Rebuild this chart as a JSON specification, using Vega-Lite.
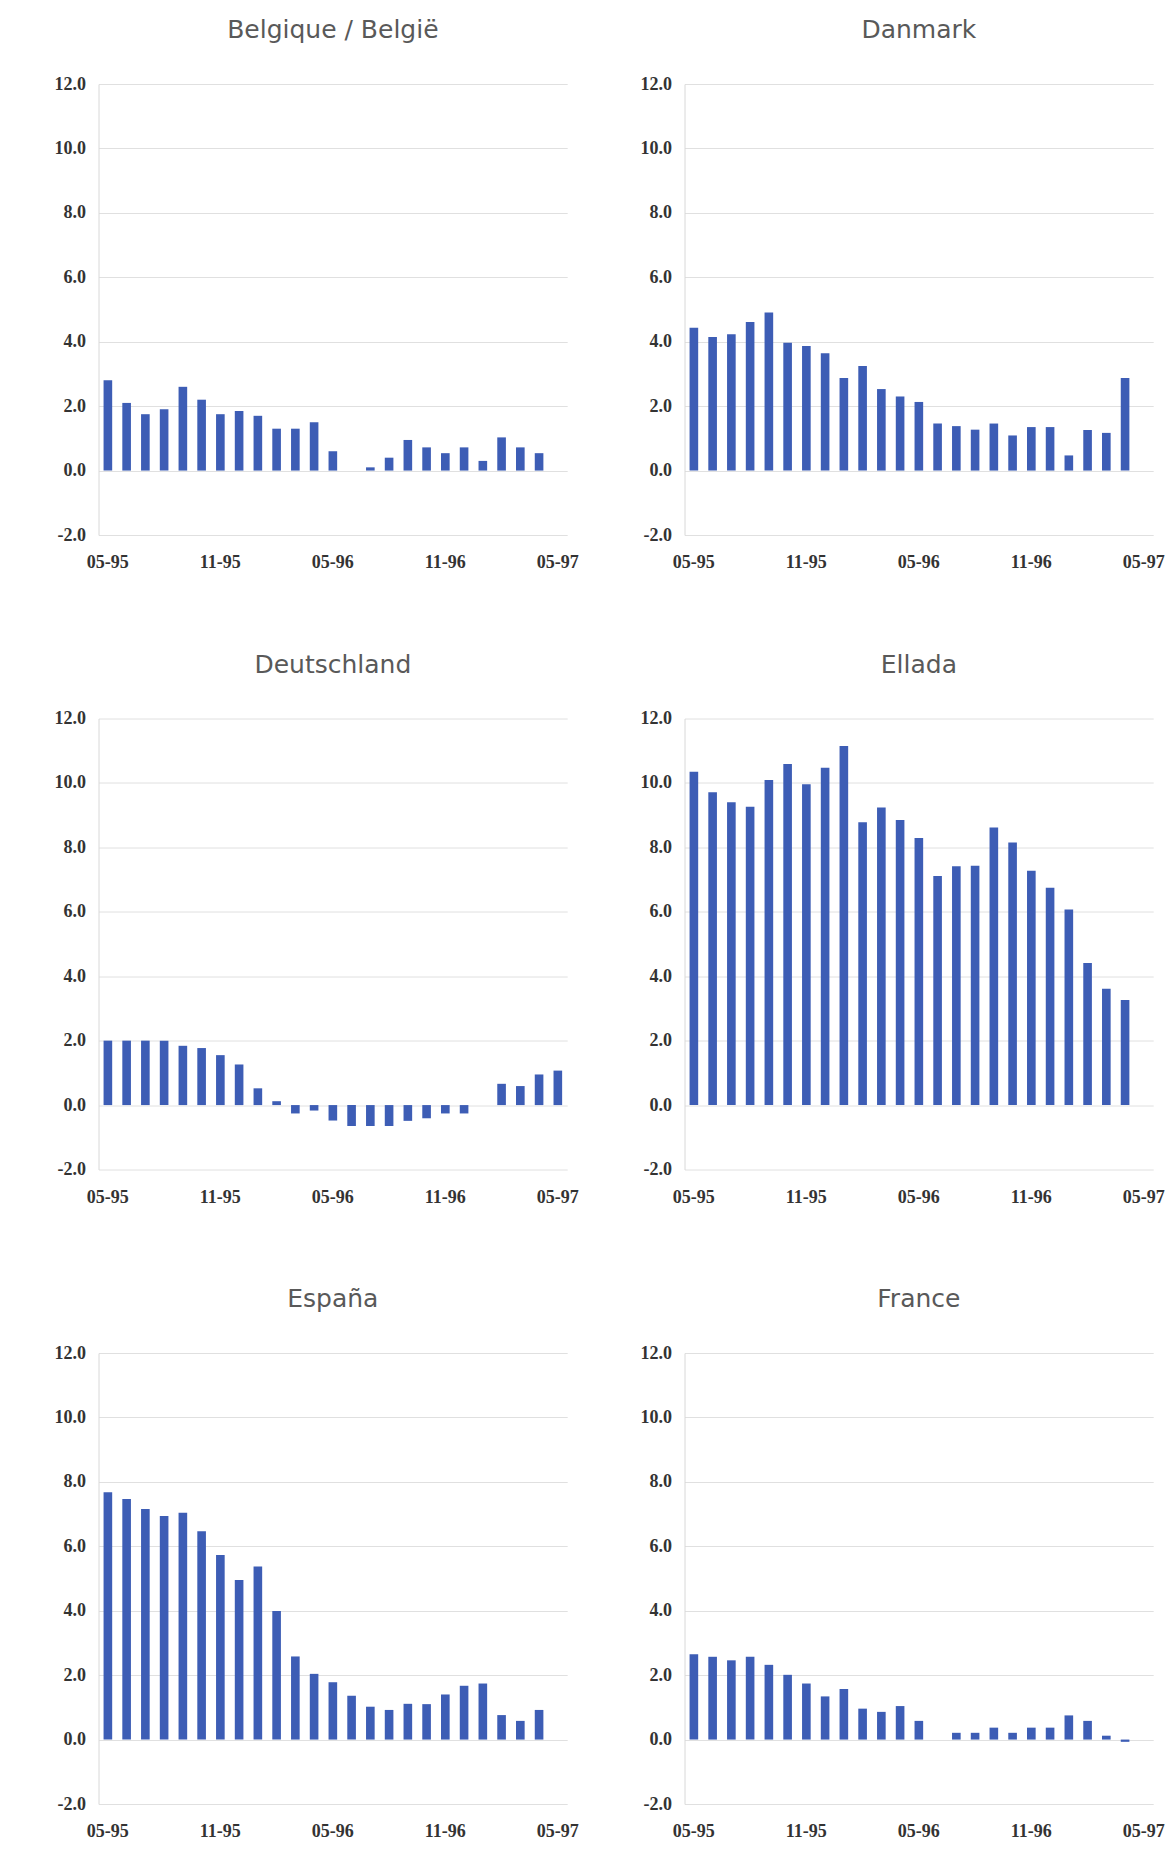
{
  "$schema": "https://vega.github.io/schema/vega-lite/v6.json",
  "background": "white",
  "padding": {"left": 53.5, "top": 18, "right": 4, "bottom": 20},
  "columns": 2,
  "spacing": {"row": 183.5, "column": 117},
  "bounds": "flush",
  "datasets": {
    "d": [
      {"country": "Belgique / België", "month": "05-95", "value": 2.8},
      {"country": "Belgique / België", "month": "06-95", "value": 2.1},
      {"country": "Belgique / België", "month": "07-95", "value": 1.75},
      {"country": "Belgique / België", "month": "08-95", "value": 1.9},
      {"country": "Belgique / België", "month": "09-95", "value": 2.6},
      {"country": "Belgique / België", "month": "10-95", "value": 2.2},
      {"country": "Belgique / België", "month": "11-95", "value": 1.75},
      {"country": "Belgique / België", "month": "12-95", "value": 1.85},
      {"country": "Belgique / België", "month": "01-96", "value": 1.7},
      {"country": "Belgique / België", "month": "02-96", "value": 1.3},
      {"country": "Belgique / België", "month": "03-96", "value": 1.3},
      {"country": "Belgique / België", "month": "04-96", "value": 1.5},
      {"country": "Belgique / België", "month": "05-96", "value": 0.6},
      {"country": "Belgique / België", "month": "06-96", "value": 0.0},
      {"country": "Belgique / België", "month": "07-96", "value": 0.1},
      {"country": "Belgique / België", "month": "08-96", "value": 0.4},
      {"country": "Belgique / België", "month": "09-96", "value": 0.95},
      {"country": "Belgique / België", "month": "10-96", "value": 0.72},
      {"country": "Belgique / België", "month": "11-96", "value": 0.54},
      {"country": "Belgique / België", "month": "12-96", "value": 0.72},
      {"country": "Belgique / België", "month": "01-97", "value": 0.3},
      {"country": "Belgique / België", "month": "02-97", "value": 1.03},
      {"country": "Belgique / België", "month": "03-97", "value": 0.72},
      {"country": "Belgique / België", "month": "04-97", "value": 0.54},

      {"country": "Danmark", "month": "05-95", "value": 4.43},
      {"country": "Danmark", "month": "06-95", "value": 4.15},
      {"country": "Danmark", "month": "07-95", "value": 4.23},
      {"country": "Danmark", "month": "08-95", "value": 4.61},
      {"country": "Danmark", "month": "09-95", "value": 4.91},
      {"country": "Danmark", "month": "10-95", "value": 3.97},
      {"country": "Danmark", "month": "11-95", "value": 3.87},
      {"country": "Danmark", "month": "12-95", "value": 3.64},
      {"country": "Danmark", "month": "01-96", "value": 2.87},
      {"country": "Danmark", "month": "02-96", "value": 3.25},
      {"country": "Danmark", "month": "03-96", "value": 2.53},
      {"country": "Danmark", "month": "04-96", "value": 2.3},
      {"country": "Danmark", "month": "05-96", "value": 2.13},
      {"country": "Danmark", "month": "06-96", "value": 1.46},
      {"country": "Danmark", "month": "07-96", "value": 1.38},
      {"country": "Danmark", "month": "08-96", "value": 1.27},
      {"country": "Danmark", "month": "09-96", "value": 1.46},
      {"country": "Danmark", "month": "10-96", "value": 1.09},
      {"country": "Danmark", "month": "11-96", "value": 1.35},
      {"country": "Danmark", "month": "12-96", "value": 1.35},
      {"country": "Danmark", "month": "01-97", "value": 0.47},
      {"country": "Danmark", "month": "02-97", "value": 1.26},
      {"country": "Danmark", "month": "03-97", "value": 1.17},
      {"country": "Danmark", "month": "04-97", "value": 2.87},

      {"country": "Deutschland", "month": "05-95", "value": 2.0},
      {"country": "Deutschland", "month": "06-95", "value": 2.0},
      {"country": "Deutschland", "month": "07-95", "value": 2.0},
      {"country": "Deutschland", "month": "08-95", "value": 2.0},
      {"country": "Deutschland", "month": "09-95", "value": 1.84},
      {"country": "Deutschland", "month": "10-95", "value": 1.77},
      {"country": "Deutschland", "month": "11-95", "value": 1.55},
      {"country": "Deutschland", "month": "12-95", "value": 1.26},
      {"country": "Deutschland", "month": "01-96", "value": 0.52},
      {"country": "Deutschland", "month": "02-96", "value": 0.12},
      {"country": "Deutschland", "month": "03-96", "value": -0.26},
      {"country": "Deutschland", "month": "04-96", "value": -0.17},
      {"country": "Deutschland", "month": "05-96", "value": -0.48},
      {"country": "Deutschland", "month": "06-96", "value": -0.65},
      {"country": "Deutschland", "month": "07-96", "value": -0.65},
      {"country": "Deutschland", "month": "08-96", "value": -0.65},
      {"country": "Deutschland", "month": "09-96", "value": -0.49},
      {"country": "Deutschland", "month": "10-96", "value": -0.41},
      {"country": "Deutschland", "month": "11-96", "value": -0.26},
      {"country": "Deutschland", "month": "12-96", "value": -0.26},
      {"country": "Deutschland", "month": "02-97", "value": 0.66},
      {"country": "Deutschland", "month": "03-97", "value": 0.59},
      {"country": "Deutschland", "month": "04-97", "value": 0.95},
      {"country": "Deutschland", "month": "05-97", "value": 1.07},

      {"country": "Ellada", "month": "05-95", "value": 10.35},
      {"country": "Ellada", "month": "06-95", "value": 9.71},
      {"country": "Ellada", "month": "07-95", "value": 9.4},
      {"country": "Ellada", "month": "08-95", "value": 9.26},
      {"country": "Ellada", "month": "09-95", "value": 10.09},
      {"country": "Ellada", "month": "10-95", "value": 10.59},
      {"country": "Ellada", "month": "11-95", "value": 9.96},
      {"country": "Ellada", "month": "12-95", "value": 10.47},
      {"country": "Ellada", "month": "01-96", "value": 11.15},
      {"country": "Ellada", "month": "02-96", "value": 8.78},
      {"country": "Ellada", "month": "03-96", "value": 9.24},
      {"country": "Ellada", "month": "04-96", "value": 8.85},
      {"country": "Ellada", "month": "05-96", "value": 8.29},
      {"country": "Ellada", "month": "06-96", "value": 7.11},
      {"country": "Ellada", "month": "07-96", "value": 7.41},
      {"country": "Ellada", "month": "08-96", "value": 7.43},
      {"country": "Ellada", "month": "09-96", "value": 8.62},
      {"country": "Ellada", "month": "10-96", "value": 8.15},
      {"country": "Ellada", "month": "11-96", "value": 7.27},
      {"country": "Ellada", "month": "12-96", "value": 6.75},
      {"country": "Ellada", "month": "01-97", "value": 6.07},
      {"country": "Ellada", "month": "02-97", "value": 4.41},
      {"country": "Ellada", "month": "03-97", "value": 3.61},
      {"country": "Ellada", "month": "04-97", "value": 3.26},

      {"country": "España", "month": "05-95", "value": 7.68},
      {"country": "España", "month": "06-95", "value": 7.47},
      {"country": "España", "month": "07-95", "value": 7.16},
      {"country": "España", "month": "08-95", "value": 6.94},
      {"country": "España", "month": "09-95", "value": 7.04},
      {"country": "España", "month": "10-95", "value": 6.47},
      {"country": "España", "month": "11-95", "value": 5.73},
      {"country": "España", "month": "12-95", "value": 4.95},
      {"country": "España", "month": "01-96", "value": 5.37},
      {"country": "España", "month": "02-96", "value": 3.99},
      {"country": "España", "month": "03-96", "value": 2.58},
      {"country": "España", "month": "04-96", "value": 2.04},
      {"country": "España", "month": "05-96", "value": 1.78},
      {"country": "España", "month": "06-96", "value": 1.36},
      {"country": "España", "month": "07-96", "value": 1.02},
      {"country": "España", "month": "08-96", "value": 0.92},
      {"country": "España", "month": "09-96", "value": 1.11},
      {"country": "España", "month": "10-96", "value": 1.1},
      {"country": "España", "month": "11-96", "value": 1.4},
      {"country": "España", "month": "12-96", "value": 1.67},
      {"country": "España", "month": "01-97", "value": 1.74},
      {"country": "España", "month": "02-97", "value": 0.76},
      {"country": "España", "month": "03-97", "value": 0.58},
      {"country": "España", "month": "04-97", "value": 0.92},

      {"country": "France", "month": "05-95", "value": 2.65},
      {"country": "France", "month": "06-95", "value": 2.57},
      {"country": "France", "month": "07-95", "value": 2.46},
      {"country": "France", "month": "08-95", "value": 2.57},
      {"country": "France", "month": "09-95", "value": 2.32},
      {"country": "France", "month": "10-95", "value": 2.01},
      {"country": "France", "month": "11-95", "value": 1.74},
      {"country": "France", "month": "12-95", "value": 1.34},
      {"country": "France", "month": "01-96", "value": 1.57},
      {"country": "France", "month": "02-96", "value": 0.96},
      {"country": "France", "month": "03-96", "value": 0.86},
      {"country": "France", "month": "04-96", "value": 1.04},
      {"country": "France", "month": "05-96", "value": 0.58},
      {"country": "France", "month": "07-96", "value": 0.21},
      {"country": "France", "month": "08-96", "value": 0.21},
      {"country": "France", "month": "09-96", "value": 0.37},
      {"country": "France", "month": "10-96", "value": 0.21},
      {"country": "France", "month": "11-96", "value": 0.37},
      {"country": "France", "month": "12-96", "value": 0.37},
      {"country": "France", "month": "01-97", "value": 0.75},
      {"country": "France", "month": "02-97", "value": 0.58},
      {"country": "France", "month": "03-97", "value": 0.12},
      {"country": "France", "month": "04-97", "value": -0.07}
    ]
  },
  "data": {"name": "d"},
  "concat": [
    {
      "title": "Belgique / België",
      "width": 468.7, "height": 451,
      "transform": [{"filter": "datum.country === 'Belgique / België'"}],
      "mark": {"type": "bar"},
      "encoding": {
        "x": {"field": "month", "type": "ordinal", "sort": null,
          "scale": {"domain": ["05-95","06-95","07-95","08-95","09-95","10-95","11-95","12-95","01-96","02-96","03-96","04-96","05-96","06-96","07-96","08-96","09-96","10-96","11-96","12-96","01-97","02-97","03-97","04-97","05-97"], "paddingInner": 0.54, "paddingOuter": 0.27},
          "axis": {"values": ["05-95","11-95","05-96","11-96","05-97"], "title": null}},
        "y": {"field": "value", "type": "quantitative",
          "scale": {"domain": [-2, 12], "nice": false, "zero": false},
          "axis": {"values": [-2, 0, 2, 4, 6, 8, 10, 12], "labelExpr": "replace(format(datum.value, '.1f'), '\u2212', '-')", "title": null}}
      }
    },
    {
      "title": "Danmark",
      "width": 468.7, "height": 451,
      "transform": [{"filter": "datum.country === 'Danmark'"}],
      "mark": {"type": "bar"},
      "encoding": {
        "x": {"field": "month", "type": "ordinal", "sort": null,
          "scale": {"domain": ["05-95","06-95","07-95","08-95","09-95","10-95","11-95","12-95","01-96","02-96","03-96","04-96","05-96","06-96","07-96","08-96","09-96","10-96","11-96","12-96","01-97","02-97","03-97","04-97","05-97"], "paddingInner": 0.54, "paddingOuter": 0.27},
          "axis": {"values": ["05-95","11-95","05-96","11-96","05-97"], "title": null}},
        "y": {"field": "value", "type": "quantitative",
          "scale": {"domain": [-2, 12], "nice": false, "zero": false},
          "axis": {"values": [-2, 0, 2, 4, 6, 8, 10, 12], "labelExpr": "replace(format(datum.value, '.1f'), '\u2212', '-')", "title": null}}
      }
    },
    {
      "title": "Deutschland",
      "width": 468.7, "height": 451,
      "transform": [{"filter": "datum.country === 'Deutschland'"}],
      "mark": {"type": "bar"},
      "encoding": {
        "x": {"field": "month", "type": "ordinal", "sort": null,
          "scale": {"domain": ["05-95","06-95","07-95","08-95","09-95","10-95","11-95","12-95","01-96","02-96","03-96","04-96","05-96","06-96","07-96","08-96","09-96","10-96","11-96","12-96","01-97","02-97","03-97","04-97","05-97"], "paddingInner": 0.54, "paddingOuter": 0.27},
          "axis": {"values": ["05-95","11-95","05-96","11-96","05-97"], "title": null}},
        "y": {"field": "value", "type": "quantitative",
          "scale": {"domain": [-2, 12], "nice": false, "zero": false},
          "axis": {"values": [-2, 0, 2, 4, 6, 8, 10, 12], "labelExpr": "replace(format(datum.value, '.1f'), '\u2212', '-')", "title": null}}
      }
    },
    {
      "title": "Ellada",
      "width": 468.7, "height": 451,
      "transform": [{"filter": "datum.country === 'Ellada'"}],
      "mark": {"type": "bar"},
      "encoding": {
        "x": {"field": "month", "type": "ordinal", "sort": null,
          "scale": {"domain": ["05-95","06-95","07-95","08-95","09-95","10-95","11-95","12-95","01-96","02-96","03-96","04-96","05-96","06-96","07-96","08-96","09-96","10-96","11-96","12-96","01-97","02-97","03-97","04-97","05-97"], "paddingInner": 0.54, "paddingOuter": 0.27},
          "axis": {"values": ["05-95","11-95","05-96","11-96","05-97"], "title": null}},
        "y": {"field": "value", "type": "quantitative",
          "scale": {"domain": [-2, 12], "nice": false, "zero": false},
          "axis": {"values": [-2, 0, 2, 4, 6, 8, 10, 12], "labelExpr": "replace(format(datum.value, '.1f'), '\u2212', '-')", "title": null}}
      }
    },
    {
      "title": "España",
      "width": 468.7, "height": 451,
      "transform": [{"filter": "datum.country === 'España'"}],
      "mark": {"type": "bar"},
      "encoding": {
        "x": {"field": "month", "type": "ordinal", "sort": null,
          "scale": {"domain": ["05-95","06-95","07-95","08-95","09-95","10-95","11-95","12-95","01-96","02-96","03-96","04-96","05-96","06-96","07-96","08-96","09-96","10-96","11-96","12-96","01-97","02-97","03-97","04-97","05-97"], "paddingInner": 0.54, "paddingOuter": 0.27},
          "axis": {"values": ["05-95","11-95","05-96","11-96","05-97"], "title": null}},
        "y": {"field": "value", "type": "quantitative",
          "scale": {"domain": [-2, 12], "nice": false, "zero": false},
          "axis": {"values": [-2, 0, 2, 4, 6, 8, 10, 12], "labelExpr": "replace(format(datum.value, '.1f'), '\u2212', '-')", "title": null}}
      }
    },
    {
      "title": "France",
      "width": 468.7, "height": 451,
      "transform": [{"filter": "datum.country === 'France'"}],
      "mark": {"type": "bar"},
      "encoding": {
        "x": {"field": "month", "type": "ordinal", "sort": null,
          "scale": {"domain": ["05-95","06-95","07-95","08-95","09-95","10-95","11-95","12-95","01-96","02-96","03-96","04-96","05-96","06-96","07-96","08-96","09-96","10-96","11-96","12-96","01-97","02-97","03-97","04-97","05-97"], "paddingInner": 0.54, "paddingOuter": 0.27},
          "axis": {"values": ["05-95","11-95","05-96","11-96","05-97"], "title": null}},
        "y": {"field": "value", "type": "quantitative",
          "scale": {"domain": [-2, 12], "nice": false, "zero": false},
          "axis": {"values": [-2, 0, 2, 4, 6, 8, 10, 12], "labelExpr": "replace(format(datum.value, '.1f'), '\u2212', '-')", "title": null}}
      }
    }
  ],
  "config": {
    "view": {"stroke": null},
    "bar": {"color": "#3d5db5"},
    "title": {"font": "DejaVu Sans", "fontSize": 25, "fontWeight": "normal", "color": "#595959", "baseline": "alphabetic", "offset": 32, "frame": "group", "anchor": "middle"},
    "axis": {"labelFont": "Liberation Serif", "labelFontWeight": "bold", "labelFontSize": 18, "labelColor": "#333333", "ticks": false},
    "axisX": {"domain": false, "grid": false, "labelAngle": 0, "labelPadding": 18.6},
    "axisY": {"domain": true, "domainColor": "#d8d8d8", "grid": true, "gridColor": "#e0e0e0", "labelPadding": 13}
  }
}
